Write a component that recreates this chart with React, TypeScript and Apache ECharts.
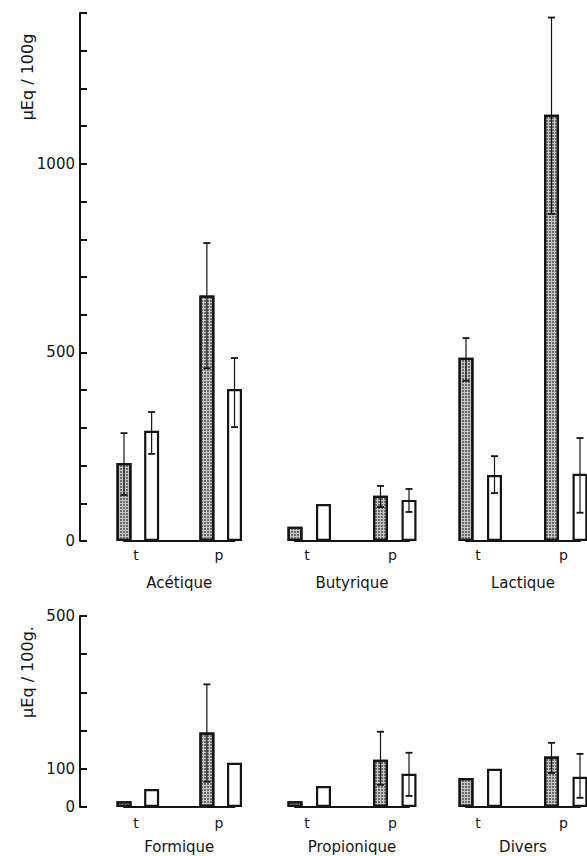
import React, { useEffect, useRef } from "react";
import * as echarts from "echarts";

// ---- data ----
const groupNames = ["Acétique", "Butyrique", "Lactique", "Formique", "Propionique", "Divers"];
const pairLabels = ["t", "p"];
// stippled bars (first of each pair)
const stippledT = [207, 38, 486, 15, 15, 76];
const stippledP = [651, 120, 1130, 195, 124, 132];
// white bars (second of each pair)
const whiteT = [292, 98, 175, 47, 55, 100];
const whiteP = [403, 109, 178, 116, 87, 79];
// error bar bounds (null = no error bar)
const stippledTLow: (number | null)[] = [122, null, 425, null, null, null];
const stippledTHigh: (number | null)[] = [286, null, 538, null, null, null];
const stippledPLow: (number | null)[] = [458, 90, 867, 66, 58, 89];
const stippledPHigh: (number | null)[] = [790, 146, 1388, 321, 197, 168];
const whiteTLow: (number | null)[] = [231, null, 127, null, null, null];
const whiteTHigh: (number | null)[] = [342, null, 225, null, null, null];
const whitePLow: (number | null)[] = [302, 77, 75, null, 29, 24];
const whitePHigh: (number | null)[] = [485, 138, 273, null, 142, 139];
// axes
const topMax = 1400;
const bottomMax = 500;
const tickStep = 100;
const topLabels = [0, 500, 1000];
const bottomLabels = [0, 100, 500];
const yTitleTop = "µEq / 100g";
const yTitleBottom = "µEq / 100g.";

const FONT = "DejaVu Sans";
const INK = "#151515";

export default function App() {
  const ref = useRef<HTMLDivElement>(null);
  useEffect(() => {
    if (!ref.current) return;
    const chart = echarts.init(ref.current, null, { renderer: "svg" });

    const colLeft = [124, 295, 466];
    const colWidth = [110.5, 114, 114];
    const slots = ["ts", "tw", "gap", "ps", "pw"];

    const grids: any[] = [];
    const xAxes: any[] = [];
    const yAxes: any[] = [];
    const series: any[] = [];

    for (let i = 0; i < 6; i++) {
      const row = i < 3 ? 0 : 1;
      const col = i % 3;
      const isTop = row === 0;
      grids.push({
        left: colLeft[col],
        width: colWidth[col],
        top: isTop ? 13 : 616,
        height: isTop ? 528 : 191,
        containLabel: false,
      });
      xAxes.push({
        type: "category",
        gridIndex: i,
        data: slots,
        boundaryGap: false,
        axisLine: { show: true, onZero: true, lineStyle: { color: INK, width: 2 } },
        axisTick: { show: false },
        splitLine: { show: false },
        axisLabel: {
          interval: 0,
          margin: isTop ? 7 : 9,
          fontFamily: FONT,
          fontSize: 14,
          color: INK,
          padding: [0, 0, 0, 24],
          formatter: (_v: string, idx: number) =>
            idx === 0 ? pairLabels[0] : idx === 3 ? pairLabels[1] : "",
        },
        name: groupNames[i],
        nameLocation: "middle",
        nameGap: isTop ? 34 : 32,
        nameTextStyle: { fontFamily: FONT, fontSize: 15, color: INK },
      });
      const labels = isTop ? topLabels : bottomLabels;
      yAxes.push({
        type: "value",
        gridIndex: i,
        min: 0,
        max: isTop ? topMax : bottomMax,
        interval: tickStep,
        show: col === 0,
        offset: 44,
        axisLine: { show: true, lineStyle: { color: INK, width: 2 } },
        axisTick: { show: true, inside: true, length: 7, lineStyle: { color: INK, width: 2 } },
        splitLine: { show: false },
        axisLabel: {
          margin: 5,
          fontFamily: FONT,
          fontSize: 15,
          color: INK,
          formatter: (v: number) => (labels.indexOf(v) >= 0 ? String(v) : ""),
        },
      });

      series.push({
        type: "bar",
        xAxisIndex: i,
        yAxisIndex: i,
        barWidth: 15,
        barGap: "-100%",
        clip: false,
        data: [stippledT[i], "-", "-", stippledP[i], "-"],
        itemStyle: {
          color: "#c4c4c4",
          borderColor: INK,
          borderWidth: 2.2,
          decal: {
            symbol: "circle",
            symbolSize: 0.8,
            dashArrayX: [2, 1],
            dashArrayY: [2, 1],
            color: "#3a3a3a",
          },
        },
        z: 2,
      });
      series.push({
        type: "bar",
        xAxisIndex: i,
        yAxisIndex: i,
        barWidth: 15,
        barGap: "-100%",
        clip: false,
        data: ["-", whiteT[i], "-", "-", whiteP[i]],
        itemStyle: { color: "#ffffff", borderColor: INK, borderWidth: 2.2, decal: "none" },
        z: 2,
      });

      const errs: number[][] = [];
      const pushErr = (slot: number, lo: number | null, hi: number | null) => {
        if (lo !== null && hi !== null) errs.push([slot, lo, hi]);
      };
      pushErr(0, stippledTLow[i], stippledTHigh[i]);
      pushErr(1, whiteTLow[i], whiteTHigh[i]);
      pushErr(3, stippledPLow[i], stippledPHigh[i]);
      pushErr(4, whitePLow[i], whitePHigh[i]);

      series.push({
        type: "custom",
        xAxisIndex: i,
        yAxisIndex: i,
        z: 5,
        data: errs,
        renderItem: (_params: any, api: any) => {
          const x = api.value(0);
          const lo = api.coord([x, api.value(1)]);
          const hi = api.coord([x, api.value(2)]);
          const cw = 3.5;
          return {
            type: "group",
            children: [
              {
                type: "line",
                shape: { x1: lo[0], y1: lo[1], x2: hi[0], y2: hi[1] },
                style: { stroke: INK, lineWidth: 1.2 },
              },
              {
                type: "line",
                shape: { x1: hi[0] - cw, y1: hi[1], x2: hi[0] + cw, y2: hi[1] },
                style: { stroke: INK, lineWidth: 1.8 },
              },
              {
                type: "line",
                shape: { x1: lo[0] - cw, y1: lo[1], x2: lo[0] + cw, y2: lo[1] },
                style: { stroke: INK, lineWidth: 1.8 },
              },
            ],
          };
        },
      });
    }

    chart.setOption({
      animation: false,
      backgroundColor: "#ffffff",
      grid: grids,
      xAxis: xAxes,
      yAxis: yAxes,
      series,
      graphic: [
        {
          type: "text",
          x: 27,
          y: 77,
          rotation: Math.PI / 2,
          style: {
            text: yTitleTop,
            font: `16px "${FONT}"`,
            fill: INK,
            align: "center",
            verticalAlign: "middle",
          },
        },
        {
          type: "text",
          x: 27,
          y: 672,
          rotation: Math.PI / 2,
          style: {
            text: yTitleBottom,
            font: `16px "${FONT}"`,
            fill: INK,
            align: "center",
            verticalAlign: "middle",
          },
        },
      ],
    });
    return () => chart.dispose();
  }, []);

  return (
    <div
      ref={ref}
      style={{ position: "absolute", left: 0, top: 0, width: 587, height: 856, background: "#fff" }}
    />
  );
}
